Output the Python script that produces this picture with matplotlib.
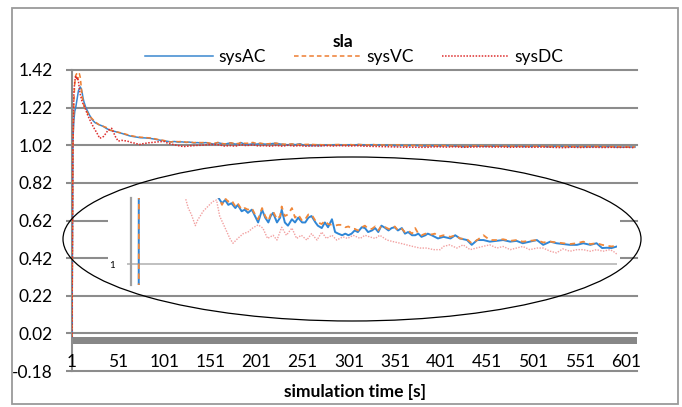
import matplotlib
matplotlib.use('Agg')
import matplotlib.pyplot as plt
from matplotlib.patches import Ellipse, Rectangle

plt.rcParams['font.family'] = ['Lato', 'DejaVu Sans']

# ---------------- data ----------------
series_names = ['sysAC', 'sysVC', 'sysDC']
chart_title = 'sla'
x_title = 'simulation time [s]'

y_ticks = [-0.18, 0.02, 0.22, 0.42, 0.62, 0.82, 1.02, 1.22, 1.42]
y_labels = ['-0.18', '0.02', '0.22', '0.42', '0.62', '0.82', '1.02', '1.22', '1.42']
x_ticks = [1, 51, 101, 151, 201, 251, 301, 351, 401, 451, 501, 551, 601]
x_labels = [str(v) for v in x_ticks]

t_acvc = [1, 2, 3, 4, 5, 6, 7, 8, 9, 10, 11, 12, 13, 14, 16, 18, 20, 23, 26, 30, 35, 38, 42, 46, 50,
          55, 60, 64, 70, 75, 80, 85, 90, 95, 100, 108, 112, 116, 120, 125, 128, 133, 137, 141, 146,
          150, 154, 159, 163, 167, 170, 173, 178, 182, 184, 188, 192, 197, 201, 205, 210, 214, 218,
          222, 227, 230, 235, 239, 243, 248, 252, 256, 261, 265, 269, 273, 277, 281, 286, 290, 294,
          299, 303, 307, 311, 316, 320, 324, 328, 332, 337, 341, 345, 350, 354, 358, 362, 367, 370,
          375, 379, 383, 390, 399, 405, 411, 420, 426, 433, 441, 449, 458, 466, 475, 483, 491, 500,
          509, 517, 526, 534, 542, 551, 560, 568, 577, 585, 592, 598, 604, 611]

sysAC = [0.00, 1.05, 1.15, 1.20, 1.22, 1.25, 1.28, 1.31, 1.32, 1.33, 1.32, 1.30, 1.27, 1.25, 1.22,
         1.20, 1.18, 1.155, 1.14, 1.13, 1.12, 1.11, 1.10, 1.095, 1.09, 1.083, 1.075, 1.069, 1.064,
         1.060, 1.059, 1.057, 1.053, 1.048, 1.044, 1.038, 1.040, 1.037, 1.038, 1.035, 1.037, 1.033,
         1.034, 1.032, 1.034, 1.030, 1.026, 1.034, 1.029, 1.026, 1.030, 1.032, 1.026, 1.029, 1.034,
         1.026, 1.024, 1.028, 1.026, 1.029, 1.026, 1.026, 1.029, 1.030, 1.026, 1.024, 1.0225, 1.026,
         1.023, 1.028, 1.020, 1.019, 1.018, 1.019, 1.018, 1.019, 1.021, 1.020, 1.023, 1.0225, 1.020,
         1.021, 1.0225, 1.020, 1.024, 1.0225, 1.021, 1.0225, 1.023, 1.021, 1.0225, 1.019, 1.020,
         1.018, 1.018, 1.019, 1.017, 1.018, 1.019, 1.018, 1.017, 1.016, 1.017, 1.016, 1.018, 1.016,
         1.015, 1.012, 1.015, 1.015, 1.014, 1.0145, 1.015, 1.014, 1.0145, 1.013, 1.014, 1.015, 1.012,
         1.014, 1.013, 1.0125, 1.012, 1.012, 1.013, 1.012, 1.013, 1.010, 1.0102, 1.010, 1.011]

sysVC = [0.00, 1.00, 1.25, 1.35, 1.39, 1.40, 1.37, 1.39, 1.40, 1.38, 1.33, 1.28, 1.25, 1.23, 1.21,
         1.19, 1.175, 1.16, 1.145, 1.13, 1.12, 1.115, 1.10, 1.097, 1.09, 1.085, 1.078, 1.072, 1.066,
         1.063, 1.061, 1.059, 1.055, 1.050, 1.046, 1.037, 1.041, 1.039, 1.040, 1.036, 1.038, 1.034,
         1.035, 1.034, 1.035, 1.031, 1.028, 1.035, 1.030, 1.027, 1.031, 1.033, 1.028, 1.030, 1.036,
         1.030, 1.031, 1.035, 1.029, 1.031, 1.027, 1.028, 1.031, 1.031, 1.027, 1.026, 1.025, 1.027,
         1.025, 1.0245, 1.024, 1.0245, 1.0245, 1.023, 1.0235, 1.022, 1.022, 1.021, 1.023, 1.024,
         1.022, 1.022, 1.0235, 1.021, 1.024, 1.023, 1.022, 1.022, 1.0235, 1.021, 1.022, 1.020, 1.021,
         1.019, 1.0225, 1.019, 1.018, 1.019, 1.019, 1.0185, 1.019, 1.017, 1.018, 1.017, 1.018, 1.016,
         1.0155, 1.013, 1.015, 1.018, 1.015, 1.015, 1.0155, 1.0145, 1.015, 1.014, 1.0145, 1.015,
         1.0135, 1.014, 1.0135, 1.013, 1.0125, 1.013, 1.014, 1.0125, 1.013, 1.012, 1.0115, 1.011,
         1.0115]

t_dc = [1, 2, 3, 4, 5, 6, 7, 8, 9, 10, 12, 15, 18, 22, 25, 28, 31, 35, 38, 40, 44, 48, 51, 55, 58,
        61, 65, 69, 74, 77, 84, 90, 96, 101, 105, 112, 118, 122, 128, 135, 141, 147, 154, 160, 166,
        173, 178, 184, 190, 197, 203, 209, 216, 222, 229, 235, 241, 248, 254, 262, 268, 275, 284,
        290, 296, 303, 309, 318, 326, 335, 343, 351, 360, 369, 377, 386, 390, 398, 407, 415, 424,
        432, 440, 449, 458, 466, 475, 483, 491, 500, 509, 517, 526, 534, 542, 551, 560, 568, 577,
        585, 593, 602, 606, 609, 611]

sysDC = [0.00, 1.00, 1.30, 1.36, 1.39, 1.37, 1.38, 1.36, 1.32, 1.29, 1.25, 1.22, 1.18, 1.137, 1.11,
         1.085, 1.057, 1.066, 1.085, 1.10, 1.11, 1.066, 1.042, 1.046, 1.044, 1.042, 1.035, 1.031,
         1.024, 1.0275, 1.033, 1.036, 1.039, 1.040, 1.030, 1.0225, 1.016, 1.013, 1.016, 1.019, 1.020,
         1.0225, 1.0245, 1.0225, 1.016, 1.018, 1.015, 1.023, 1.018, 1.0225, 1.016, 1.018, 1.015,
         1.019, 1.015, 1.020, 1.016, 1.018, 1.015, 1.017, 1.016, 1.018, 1.016, 1.018, 1.017, 1.016,
         1.018, 1.015, 1.014, 1.013, 1.012, 1.011, 1.010, 1.010, 1.009, 1.009, 1.011, 1.012, 1.010,
         1.012, 1.009, 1.010, 1.011, 1.012, 1.010, 1.011, 1.009, 1.010, 1.011, 1.009, 1.010, 1.010,
         1.008, 1.007, 1.0095, 1.008, 1.009, 1.009, 1.008, 1.009, 1.008, 1.009, 1.008, 1.007, 1.006]

# ---------------- styling ----------------
W, H = 682, 407
GRID = '#8c8c8c'
C_AC = '#3A87CF'
C_VC = '#ED7D31'
C_DC = '#DD2C2C'
FS = 12.5


def fx(px):
    return px / W


def fy(py):
    return 1 - py / H


fig = plt.figure(figsize=(W / 100, H / 100), dpi=100)

# outer chart border
fig.patches.append(Rectangle((fx(12), fy(404)), fx(678) - fx(12), fy(8) - fy(404),
                             transform=fig.transFigure, fill=False, edgecolor='#9a9a9a', lw=1.3,
                             zorder=0))

# ---------------- main axes ----------------
ax = fig.add_axes([fx(72), fy(371), fx(637) - fx(72), fy(70) - fy(371)])
ax.set_xlim(1, 613.1)
ax.set_ylim(-0.18, 1.42)
for v in y_ticks:
    ax.axhline(v, color=GRID, lw=1.5, clip_on=False, zorder=1)
ax.set_yticks(y_ticks)
ax.set_yticklabels(y_labels)
ax.tick_params(axis='y', length=4.3, width=1.5, color=GRID, pad=9.4, labelsize=FS)
ax.set_xticks([])
for s in ['top', 'right', 'bottom']:
    ax.spines[s].set_visible(False)
ax.spines['left'].set_color(GRID)
ax.spines['left'].set_linewidth(1.5)
# category axis with dense tick marks (appears as a band)
ax.axhspan(-0.036, 0.0, color='#878787', lw=0, zorder=1)
for t, lab in zip(x_ticks, x_labels):
    ax.text(t, -0.133, lab, ha='center', va='center', fontsize=FS)

l1, = ax.plot(t_acvc, sysAC, color=C_AC, lw=1.1, zorder=3)
l2, = ax.plot(t_acvc, sysVC, color=C_VC, lw=1.1, ls=(0, (3, 2)), zorder=4)
l3, = ax.plot(t_dc, sysDC, color=C_DC, lw=1.1, ls=(0, (1, 1)), zorder=5)

# legend + title + axis title
fig.legend(handles=[l1, l2, l3], labels=series_names, loc='center',
           bbox_to_anchor=(fx(354.5), fy(57)), ncol=3, frameon=False, fontsize=FS,
           handlelength=3.9, handletextpad=0.3, columnspacing=1.6)
fig.text(fx(343), fy(42), chart_title, ha='center', va='center', fontsize=FS, weight='bold')
fig.text(fx(355), fy(392), x_title, ha='center', va='center', fontsize=FS, weight='bold')

# ---------------- inset (zoomed copy) ----------------
fig.patches.append(Rectangle((fx(108), fy(291)), fx(620) - fx(108), fy(189) - fy(291),
                             transform=fig.transFigure, facecolor='white', edgecolor='none',
                             zorder=1))

axi = fig.add_axes([fx(131), fy(285), fx(617.4) - fx(131), fy(197.5) - fy(285)])
axi.set_zorder(2)
axi.patch.set_alpha(0)
axi.set_xlim(-7.9, 611.5)
axi.set_ylim(0.9869, 1.0416)
axi.set_xticks([])
axi.set_yticks([1])
axi.set_yticklabels(['1'])
axi.tick_params(axis='y', length=3, width=1.2, color='#b5b5b5', pad=8.6, labelsize=7)
axi.yaxis.grid(True, color='#b5b5b5', lw=1.2)
for s in ['top', 'right', 'bottom']:
    axi.spines[s].set_visible(False)
axi.spines['left'].set_color('#a0a0a0')
axi.spines['left'].set_linewidth(1.6)
axi.plot(t_dc, sysDC, color='#F2A0A0', lw=1.0, ls=(0, (1, 1)), zorder=2)
axi.plot(t_acvc, sysAC, color='#2F86D6', lw=1.4, zorder=3)
axi.plot(t_acvc, sysVC, color='#F0883A', lw=1.3, ls=(0, (3, 2.5)), zorder=4)

# ellipse highlighting the inset
fig.patches.append(Ellipse((fx(352), fy(239)), fx(578), 164 / H, transform=fig.transFigure,
                           fill=False, edgecolor='black', lw=0.9, zorder=5))

fig.savefig('out.png', dpi=100)
